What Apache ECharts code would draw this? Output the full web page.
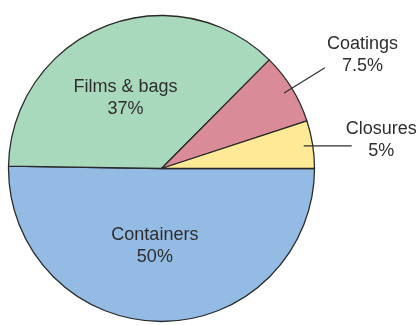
<!DOCTYPE html>
<html>
<head>
<meta charset="utf-8">
<script src="https://cdn.jsdelivr.net/npm/echarts@6/dist/echarts.min.js"></script>
<style>
  html, body { margin: 0; padding: 0; background: #ffffff; }
  #chart { width: 417px; height: 325px; }
</style>
</head>
<body>
<div id="chart"></div>
<script>
// Plastic packaging uses, share in percent
const categories = ['Containers', 'Films & bags', 'Coatings', 'Closures'];
const shares = [50, 37, 7.5, 5];
const colors = ['#93bbe3', '#a9d9bc', '#d98b97', '#fde996'];
// slices labelled inside vs. with a leader line
const insideLabelled = ['Containers', 'Films & bags'];

const FONT = '"Liberation Sans", Arial, sans-serif';
const TEXT = '#2e2e2e';

// nudges for the inside labels
const insideShift = {
  'Containers': { dx: -6, dy: -2 },
  'Films & bags': { dx: -6, dy: 3 }
};

// leader line shape for the outside labels
const leader = {
  'Coatings': { length: 48, length2: 0, dist: 2, dy: -13 },
  'Closures': { length: 0, length2: 48, dist: -6, dy: -6 }
};

const center = [161.5, 168.5];

const sliceData = categories.map((name, i) => ({
  name: name,
  value: shares[i],
  itemStyle: { color: colors[i] },
  label: { show: insideLabelled.includes(name) }
}));

const labelData = categories.map((name, i) => {
  const l = leader[name];
  return {
    name: name,
    value: shares[i],
    label: l ? { show: true, distanceToLabelLine: l.dist } : { show: false },
    labelLine: l ? { show: true, length: l.length, length2: l.length2 } : { show: false }
  };
});

const richText = {
  t: { align: 'center', fontSize: 18, lineHeight: 22, color: TEXT, fontFamily: FONT }
};

const chart = echarts.init(document.getElementById('chart'), null, { renderer: 'canvas' });
chart.setOption({
  backgroundColor: '#ffffff',
  animation: false,
  series: [
    {
      type: 'pie',
      center: center,
      radius: 153,
      startAngle: 0,
      clockwise: true,
      avoidLabelOverlap: false,
      silent: true,
      itemStyle: { borderColor: '#2a2a2a', borderWidth: 1.3 },
      label: {
        position: 'inside',
        formatter: '{t|{b}}\n{t|{c}%}',
        rich: richText
      },
      labelLayout: function (params) {
        const s = insideShift[categories[params.dataIndex]];
        return s ? { dx: s.dx, dy: s.dy } : {};
      },
      labelLine: { show: false },
      emphasis: { disabled: true },
      data: sliceData
    },
    {
      // transparent twin ring that only carries the leader-line labels
      type: 'pie',
      center: center,
      radius: 144,
      startAngle: 0,
      clockwise: true,
      avoidLabelOverlap: false,
      silent: true,
      z: 3,
      itemStyle: { color: 'rgba(0,0,0,0)', borderWidth: 0 },
      label: {
        position: 'outside',
        alignTo: 'none',
        formatter: '{t|{b}}\n{t|{c}%}',
        rich: richText
      },
      labelLine: {
        lineStyle: { color: '#2e2e2e', width: 1.2 }
      },
      labelLayout: function (params) {
        const l = leader[categories[params.dataIndex]];
        return { dy: l ? l.dy : 0 };
      },
      emphasis: { disabled: true },
      data: labelData
    }
  ]
});
</script>
</body>
</html>
